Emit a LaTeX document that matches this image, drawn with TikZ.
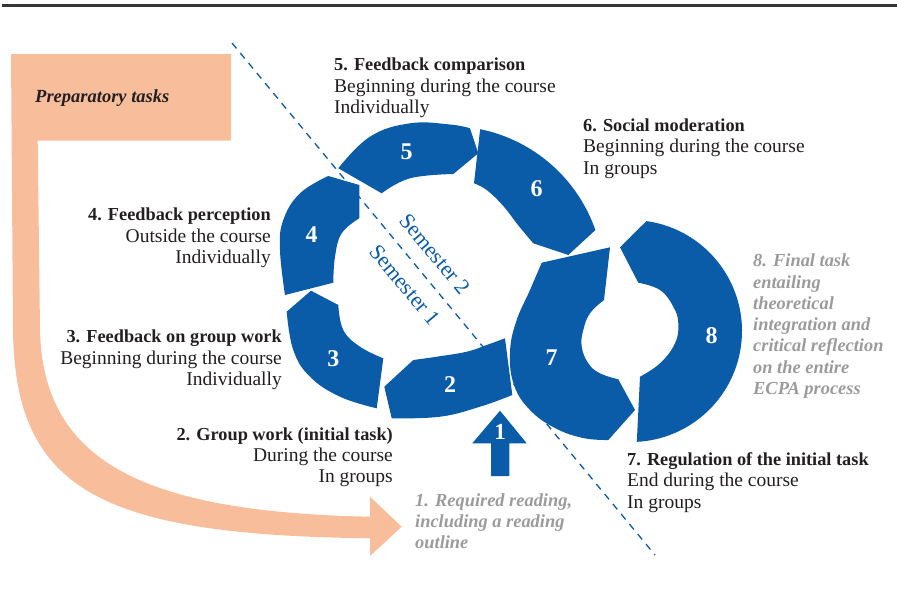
\documentclass[tikz,border=0pt]{standalone}
\usepackage{fontspec}
\setmainfont{Liberation Serif}
\definecolor{segblue}{RGB}{10,91,168}
\definecolor{peach}{RGB}{248,190,156}
\definecolor{txtdark}{RGB}{35,31,32}
\definecolor{txtgray}{RGB}{155,155,155}
\tikzset{
  seg/.style={fill=segblue, draw=none},
  num/.style={text=white, inner sep=0pt, font=\fontsize{24}{24}\selectfont\bfseries},
  lbl/.style={text=txtdark, inner sep=0pt, font=\fontsize{19.5}{21.3}\selectfont},
  graylbl/.style={text=txtgray, inner sep=0pt, font=\fontsize{18.4}{21.3}\selectfont\bfseries\itshape},
  semlbl/.style={text=segblue, inner sep=0pt, font=\fontsize{22}{22}\selectfont, rotate=-50},
  divider/.style={draw=segblue, line width=1.3pt, dash pattern=on 7pt off 6pt},
  sm/.style={smooth, tension=0.7},
}
\newcommand{\hd}[1]{{\fontsize{18.3}{21.3}\selectfont\bfseries #1}}
\begin{document}
\begin{tikzpicture}[x=1pt,y=-1pt]
\useasboundingbox (0,0) rectangle (897,592);
% top rule
\draw[line width=2.5pt, color=txtdark!90] (2,5.5) -- (897,5.5);

% preparatory tasks arrow
\fill[peach] (11,54) -- (231,54) -- (231,140.7) -- (37.7,140.7) -- (40,330)
  .. controls (43,460) and (140,512) .. (370,516.7)
  -- (370,496.7) -- (401.7,526.7) -- (370,556) -- (370,538.3)
  .. controls (100,535) and (15,490) .. (13,330)
  -- cycle;
\node[anchor=base west, inner sep=0pt, text=txtdark, font=\fontsize{18.5}{21}\selectfont\bfseries\itshape] (prep) at (35,102.7) {Preparatory tasks};

% dashed semester divider
\coordinate (dA) at (232,43);
\coordinate (dB) at (655,555);
\draw[divider] (dA) -- (dB);
\node[semlbl] (sem2) at (435,254) {Semester 2};
\node[semlbl] (sem1) at (405,285) {Semester 1};

% segment 5
\fill[seg] (338.3,168.3) -- (381.7,193.3)
  -- plot[sm] coordinates {(381.7,193.3) (410,178.3) (453.3,174)}
  -- (478.3,153.3)
  -- plot[sm] coordinates {(470,128.3) (450,124.5) (410,123.3) (370,136.7) (338.3,168.3)} -- cycle;
% segment 6
\fill[seg] ([shift={(-78.4:155)}]449,281) arc[start angle=-78.4, end angle=-19.2, radius=155]
  -- (568.3,255) -- (533.3,243.3)
  -- plot[sm] coordinates {(533.3,243.3) (518,225) (503.3,206) (486.7,190) (474,183.3)} -- cycle;
% segment 4
\fill[seg] (328.3,176) -- (359.3,185) -- (359.3,218.3)
  -- plot[sm] coordinates {(359.3,218.3) (341.7,233.3) (335,256.7) (333.3,282.7)}
  -- (285,295)
  -- plot[sm] coordinates {(285,295) (280,250) (283.3,220) (300,193.3) (328.3,176)} -- cycle;
% segment 3
\fill[seg] (286.7,311.7) -- (311,290.7) -- (338.3,305)
  -- plot[sm] coordinates {(338.3,305) (343.3,330) (360,346.7) (383.3,358.3)}
  -- (376.7,408.3)
  -- plot[sm] coordinates {(376.7,408.3) (340,396.7) (310,376.7) (293.3,350) (286.7,311.7)} -- cycle;
% segment 2
\fill[seg] (384.3,386.7) -- (413.3,360)
  -- plot[sm] coordinates {(413.3,360) (436.7,356.7) (466.7,351.7) (486.7,345) (505,338.3)}
  -- (512.3,395)
  -- plot[sm] coordinates {(512.3,395) (480,406.7) (440,416.7) (391.7,418.3)} -- cycle;
% segment 7
\fill[seg] (610,247.3) -- (604,300)
  -- plot[sm] coordinates {(604,300) (590,313.3) (583.3,330) (581.7,346.7) (588.3,363.3) (600,373.3) (618.3,379.3)}
  -- (635,410) -- (608.3,440)
  -- plot[sm] coordinates {(608.3,440) (583,438) (555,428) (530,410) (514,385) (510,353) (516,322) (530,290) (541.7,262.7)} -- cycle;
% segment 8
\fill[seg] (620,247.3) -- ([shift={(-82:111)}]631,331) arc[start angle=-82, end angle=87, radius=111]
  -- (640,376.7)
  -- plot[sm] coordinates {(640,376.7) (660,363.3) (675,343.3) (678.3,323.3) (673.3,306.7) (660,290) (638.3,282.7)} -- cycle;
% arrow 1
\fill[seg] (500,410.7) -- (526.7,443.3) -- (509.3,443.3) -- (509.3,476) -- (491,476) -- (491,443.3) -- (472.3,443.3) -- cycle;

% numbers
\node[num] (n5) at (406.7,151.7) {5};
\node[num] (n6) at (536.7,188.3) {6};
\node[num] (n4) at (311.7,235) {4};
\node[num] (n3) at (333.3,358.3) {3};
\node[num] (n2) at (450,385) {2};
\node[num] (n7) at (551.7,357.3) {7};
\node[num] (n8) at (711.7,336) {8};
\node[num, font=\fontsize{23}{23}\selectfont\bfseries] (n1) at (500,432.3) {1};

% labels
\node[lbl, anchor=base west] (l5) at (334,70.7) {\begin{tabular}[t]{@{}l@{}}\hd{5. Feedback comparison}\\Beginning during the course\\Individually\end{tabular}};
\node[lbl, anchor=base west] (l6) at (583,131.5) {\begin{tabular}[t]{@{}l@{}}\hd{6. Social moderation}\\Beginning during the course\\In groups\end{tabular}};
\node[lbl, anchor=base east] (l4) at (271,220.7) {\begin{tabular}[t]{@{}r@{}}\hd{4. Feedback perception}\\Outside the course\\Individually\end{tabular}};
\node[lbl, anchor=base east] (l3) at (282,342.7) {\begin{tabular}[t]{@{}r@{}}\hd{3. Feedback on group work}\\Beginning during the course\\Individually\end{tabular}};
\node[lbl, anchor=base east] (l2) at (393,440) {\begin{tabular}[t]{@{}r@{}}\hd{2. Group work (initial task)}\\During the course\\In groups\end{tabular}};
\node[lbl, anchor=base west] (l7) at (627,465.5) {\begin{tabular}[t]{@{}l@{}}\hd{7. Regulation of the initial task}\\End during the course\\In groups\end{tabular}};
\node[graylbl, anchor=base west] (l8) at (753,266.7) {\begin{tabular}[t]{@{}l@{}}8. Final task\\entailing\\theoretical\\integration and\\critical reflection\\on the entire\\ECPA process\end{tabular}};
\node[graylbl, anchor=base west] (l1) at (415,506) {\begin{tabular}[t]{@{}l@{}}1. Required reading,\\including a reading\\outline\end{tabular}};
\end{tikzpicture}
\end{document}
